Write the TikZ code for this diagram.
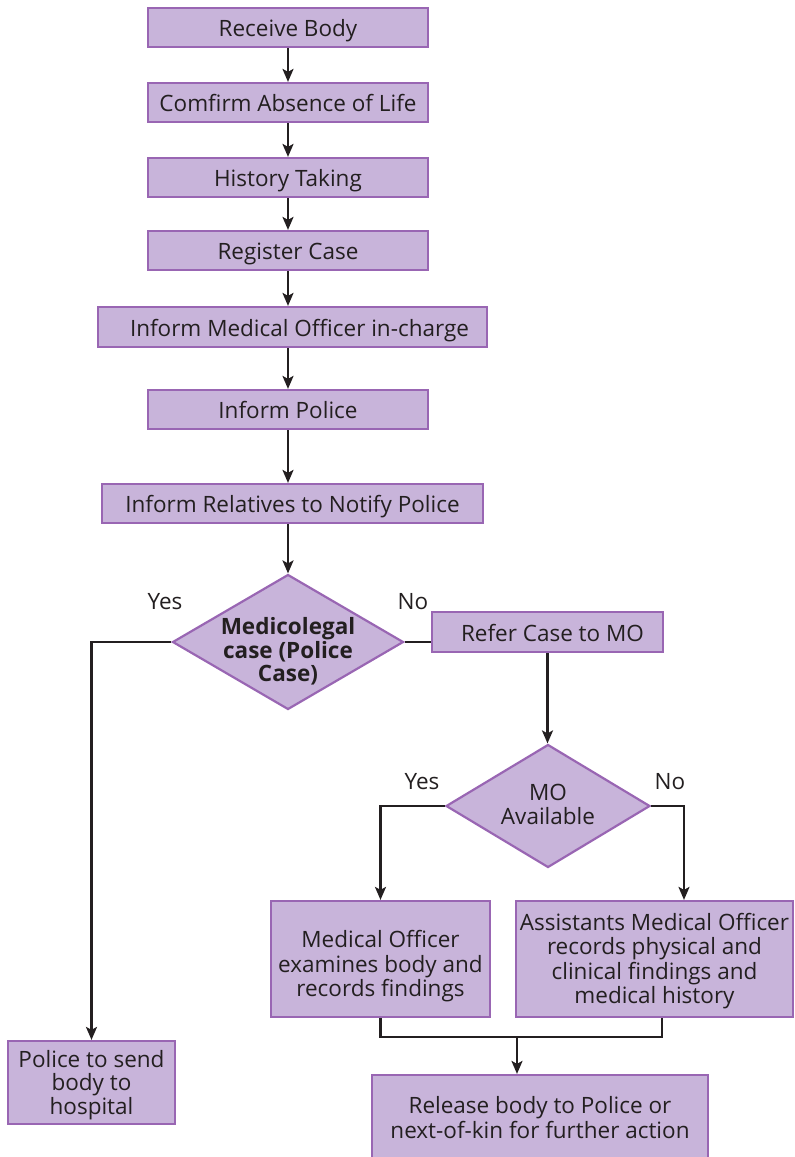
\documentclass[tikz,border=0pt]{standalone}
\usepackage{fontspec}
\setmainfont{Open Sans}
\usetikzlibrary{shapes.geometric,arrows.meta}
\definecolor{boxfill}{HTML}{C8B4DA}
\definecolor{boxdraw}{HTML}{9966B3}
\definecolor{ink}{HTML}{231F20}
\newcommand{\mlines}[2]{\raisebox{#1}[\height][\depth]{\begin{tabular}{@{}c@{}}#2\end{tabular}}}
\begin{document}
\begin{tikzpicture}[x=1bp,y=-1bp,
 box/.style={draw=boxdraw, fill=boxfill, line width=2.2bp, inner sep=0pt,
   font=\fontsize{22.5bp}{23.5bp}\selectfont, text=ink},
 one/.style={box, text height=21.5bp, text depth=3bp},
 dia/.style={diamond, draw=boxdraw, fill=boxfill, line width=2.2bp, inner sep=0pt},
 diatext/.style={inner sep=0pt, font=\fontsize{22.5bp}{23.5bp}\selectfont, text=ink},
 arr/.style={draw=ink, line width=2.4bp, -{Stealth[length=13bp,width=11bp,inset=3bp]}},
 ln/.style={draw=ink, line width=2.4bp},
 lbl/.style={font=\fontsize{22.5bp}{23.5bp}\selectfont, text=ink}
]
\useasboundingbox (0,0) rectangle (795,1157);

\node[one, minimum width=280bp, minimum height=39bp] (b1) at (288,27.5) {Receive Body};
\node[one, minimum width=280bp, minimum height=39bp] (b2) at (288,102.5) {Comfirm Absence of Life};
\node[one, minimum width=280bp, minimum height=39bp] (b3) at (288,177.5) {History Taking};
\node[one, minimum width=280bp, minimum height=39bp] (b4) at (288,250.5) {Register Case};
\node[one, minimum width=389bp, minimum height=40bp] (b5) at (292.5,327) {\hspace*{14bp}Inform Medical Officer in-charge};
\node[one, minimum width=280bp, minimum height=39bp] (b6) at (288,409.5) {Inform Police};
\node[one, minimum width=381bp, minimum height=39bp] (b7) at (292.5,503.5) {Inform Relatives to Notify Police};

\node[dia, minimum width=231bp, minimum height=135bp] (d1) at (288,642) {};
\node[diatext, font=\fontsize{22.5bp}{23.5bp}\selectfont\bfseries] (t1) at (288,653) {\mlines{0bp}{Medicolegal\\case (Police\\Case)}};

\node[one, minimum width=231bp, minimum height=40bp] (b9) at (547.5,632) {\hspace*{10bp}Refer Case to MO};

\node[dia, minimum width=204bp, minimum height=123bp] (d2) at (548,806) {};
\node[diatext] (t2) at (548,808) {\mlines{0bp}{MO\\Available}};

\node[box, minimum width=219bp, minimum height=116bp] (b11) at (380.5,959) {\mlines{-8bp}{Medical Officer\\examines body and\\records findings}};
\node[box, minimum width=277bp, minimum height=116bp] (b12) at (654.5,959) {\mlines{-3bp}{Assistants Medical Officer\\records physical and\\clinical findings and\\medical history}};
\node[box, minimum width=167bp, minimum height=83bp, font=\fontsize{22.5bp}{22bp}\selectfont] (b13) at (91.5,1082.5) {\mlines{-3bp}{Police to send\\body to\\hospital}};
\node[box, minimum width=336bp, minimum height=90bp] (b14) at (540,1120) {\mlines{-1bp}{Release body to Police or\\next-of-kin for further action}};

\node[lbl] (y1) at (165,602) {Yes};
\node[lbl] (n1) at (413,602) {No};
\node[lbl] (y2) at (422,782) {Yes};
\node[lbl] (n2) at (670,782) {No};

\draw[arr] (b1) -- (b2);
\draw[arr] (b2) -- (b3);
\draw[arr] (b3) -- (b4);
\draw[arr] (b4.south) -- (b4.south |- b5.north);
\draw[arr] (b6.north |- b5.south) -- (b6.north);
\draw[arr] (b6.south) -- (b6.south |- b7.north);
\draw[arr] (d1.north |- b7.south) -- (d1.north);

\draw[arr] (d1.west) -| (b13.north);
\draw[ln] (d1.east) -- (d1.east -| b9.west);
\draw[arr] (b9.south) -- (b9.south |- d2.north);
\draw[arr] (d2.west) -| (b11.north);
\coordinate (c2) at ([xshift=29.5bp]b12.north);
\draw[arr] (d2.east) -| (c2);
\coordinate (c3) at ([xshift=7.5bp]b12.south);
\coordinate (m) at (517,1037);
\draw[ln] (b11.south) -- (b11.south |- m) -| (c3);
\draw[arr] (m) -- (m |- b14.north);
\end{tikzpicture}
\end{document}
